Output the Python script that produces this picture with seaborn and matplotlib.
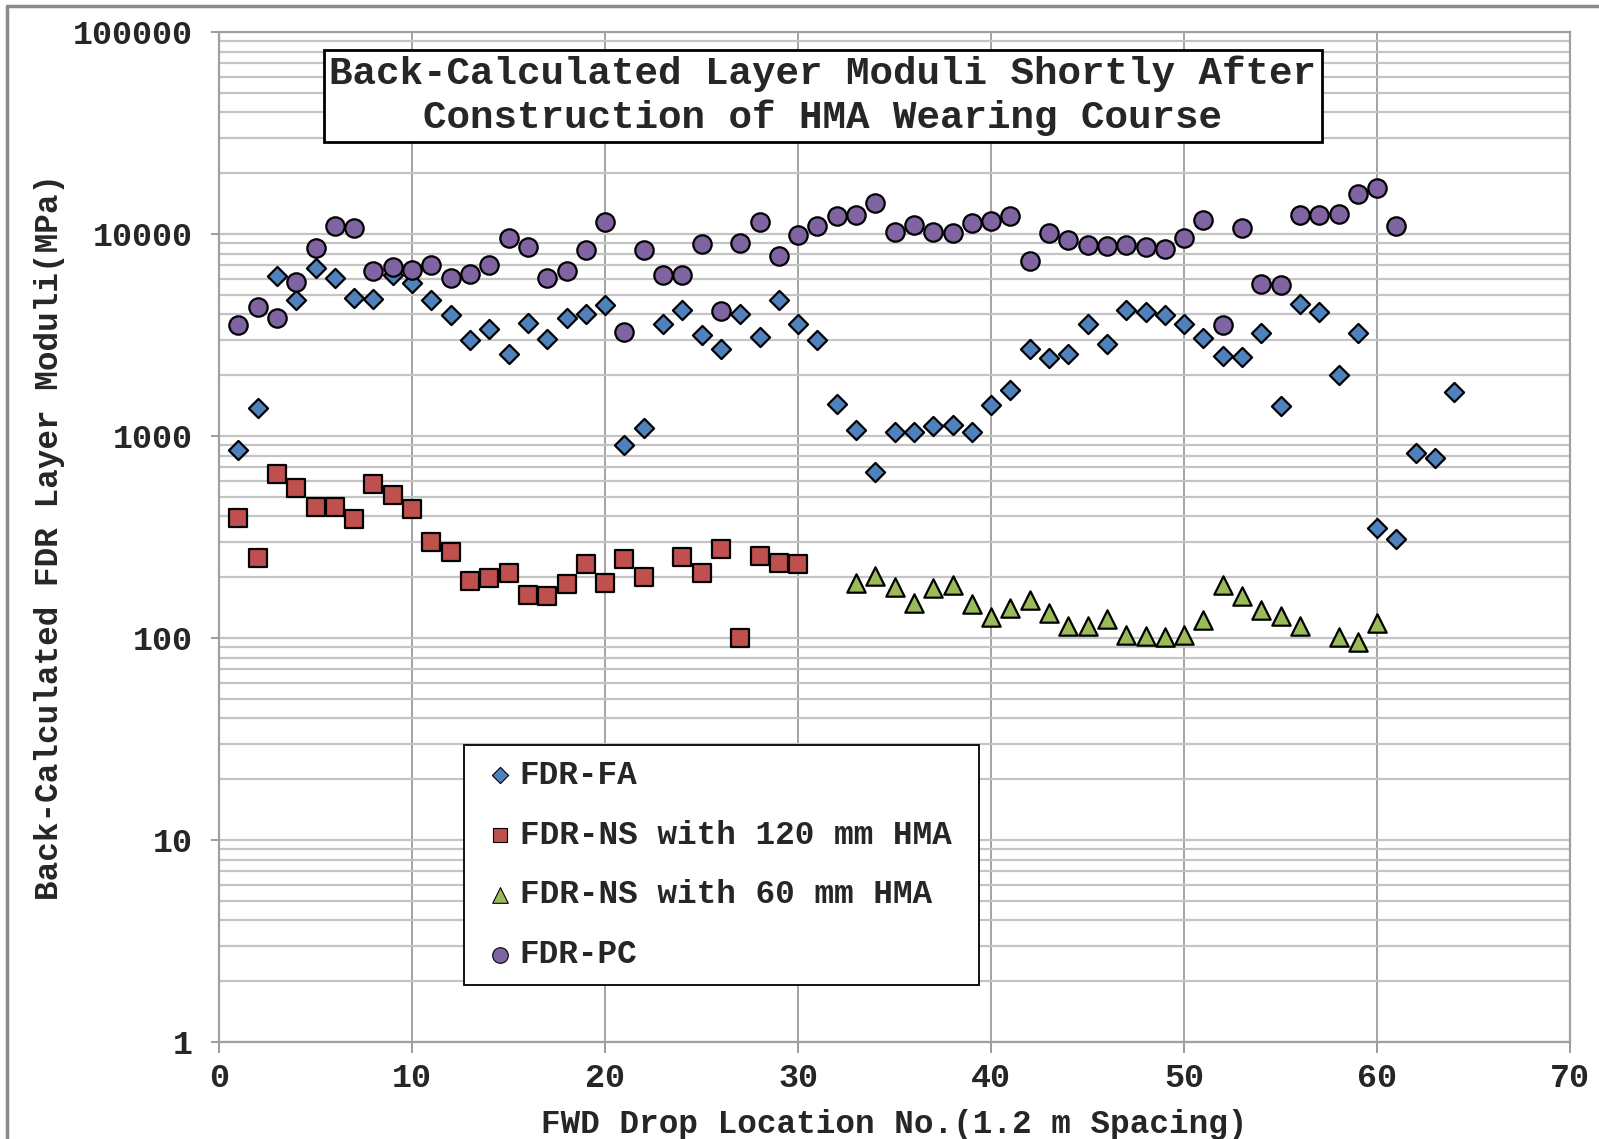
import numpy as np
import pandas as pd
import matplotlib
matplotlib.use('Agg')
import matplotlib.pyplot as plt
from matplotlib.lines import Line2D
from matplotlib.ticker import FixedLocator, FixedFormatter, LogLocator, NullFormatter
import seaborn as sns

# Data (MPa)
fa_x = list(range(1, 65))
fa_y = [849, 1380, 6170, 4690, 6760, 6090, 4800, 4750, 6250, 5720,
        4730, 3950, 2970, 3390, 2550, 3610, 3020, 3860, 4020, 4430,
        905, 1090, 3590, 4190, 3180, 2710, 4020, 3090, 4730, 3570,
        2970, 1440, 1070, 666, 1050, 1050, 1116, 1130, 1050, 1418,
        1695, 2700, 2420, 2550, 3570, 2840, 4210, 4090, 3950, 3570,
        3060, 2490, 2450, 3220, 1413, 4480, 4090, 2005, 3220, 351,
        309, 827, 778, 1660]

ns120_x = [1, 2, 3, 4, 5, 6, 7, 8, 9, 10, 11, 12, 13, 14, 15, 16, 17, 18, 19, 20,
           21, 22, 24, 25, 26, 27, 28, 29, 30]
ns120_y = [391, 248, 646, 555, 445, 445, 388, 576, 508, 435, 297, 265, 192, 197, 210,
           164, 161, 184, 232, 187, 246, 200, 253, 210, 276, 100, 256, 235, 232]

ns60_x = [33, 34, 35, 36, 37, 38, 39, 40, 41, 42, 43, 44, 45, 46, 47, 48, 49, 50,
          51, 52, 53, 54, 55, 56, 58, 59, 60]
ns60_y = [188, 202, 179, 149, 177, 182, 147, 127, 141, 155, 133, 115, 114, 124, 104,
          102, 101, 103, 123, 182, 161, 138, 128, 115, 101, 95.5, 119]

pc_x = list(range(1, 62))
pc_y = [3540, 4350, 3820, 5760, 8550, 10900, 10740, 6560, 6830, 6660,
        7050, 6050, 6310, 7050, 9590, 8650, 6050, 6560, 8360, 11500,
        3270, 8360, 6240, 6240, 8920, 4160, 9020, 11500, 7810, 9850,
        10900, 12220, 12460, 14230, 10270, 11040, 10270, 10110, 11330, 11640,
        12220, 7320, 10110, 9340, 8850, 8750, 8850, 8620, 8460, 9510,
        11770, 3540, 10660, 5650, 5620, 12420, 12420, 12590, 15700, 16810,
        10900]

series_names = ['FDR-FA', 'FDR-NS with 120 mm HMA', 'FDR-NS with 60 mm HMA', 'FDR-PC']
x_ticks = [0, 10, 20, 30, 40, 50, 60, 70]
y_ticks = [1, 10, 100, 1000, 10000, 100000]
y_tick_labels = ['1', '10', '100', '1000', '10000', '100000']

title_text = 'Back-Calculated Layer Moduli Shortly After\nConstruction of HMA Wearing Course'
x_label = 'FWD Drop Location No.(1.2 m Spacing)'
y_label = 'Back-Calculated FDR Layer Moduli(MPa)'

sns.set_style('white')
plt.rcParams['font.family'] = ['Liberation Mono', 'DejaVu Sans Mono']
plt.rcParams['font.weight'] = 'bold'

fig = plt.figure(figsize=(15.99, 11.39), dpi=100)
ax = fig.add_axes([0.137, 0.0852, 0.845, 0.8867])

styles = [
    (fa_x, fa_y, 'D', '#4F81BD', 95),
    (ns120_x, ns120_y, 's', '#C0504D', 150),
    (ns60_x, ns60_y, '^', '#9BBB59', 175),
    (pc_x, pc_y, 'o', '#8064A2', 175),
]
for (xs, ys, mk, col, sz), name in zip(styles, series_names):
    df = pd.DataFrame({'x': xs, 'y': ys})
    sns.scatterplot(data=df, x='x', y='y', marker=mk, color=col, s=sz,
                    edgecolor='black', linewidth=1.6, ax=ax, label=name, zorder=3)

ax.set_yscale('log')
ax.set_xlim(0, 70)
ax.set_ylim(1, 100000)
ax.xaxis.set_major_locator(FixedLocator(x_ticks))
ax.yaxis.set_major_locator(FixedLocator(y_ticks))
ax.yaxis.set_major_formatter(FixedFormatter(y_tick_labels))
ax.yaxis.set_minor_locator(LogLocator(base=10, subs=np.arange(2, 10)))
ax.yaxis.set_minor_formatter(NullFormatter())

ax.grid(which='major', axis='x', color='#8a8a8a', lw=1.1)
ax.grid(which='both', axis='y', color='#c4c4c4', lw=1.6)
ax.set_axisbelow(True)
for sp in ax.spines.values():
    sp.set_color('#a0a0a0')
    sp.set_linewidth(1.6)

ax.tick_params(axis='both', which='major', labelsize=24, direction='out', color='#8a8a8a')
ax.tick_params(axis='y', which='major', length=6, pad=13, width=1.2)
ax.tick_params(axis='x', which='major', length=8, pad=7, width=1.2)
ax.tick_params(axis='y', which='minor', length=0)
ax.tick_params(axis='both', left=True, bottom=True)

ax.set_xlabel(x_label, fontsize=23.5, fontweight='bold')
ax.set_ylabel(y_label, fontsize=23.5, fontweight='bold')
ax.xaxis.set_label_coords(0.5, -0.066)
ax.yaxis.set_label_coords(-0.114, 0.5)

ax.text(0.4467, 0.9366, title_text, transform=ax.transAxes, ha='center', va='center',
        fontsize=28.3, fontweight='bold', linespacing=1.27, zorder=5,
        bbox=dict(boxstyle='square,pad=0.14', facecolor='white', edgecolor='black', lw=2))

leg = ax.legend(loc='upper left', bbox_to_anchor=(0.1813, 0.0614, 0.3813, 0.2326),
                mode='expand', fontsize=23.6,
                frameon=True, fancybox=False, edgecolor='black', framealpha=1,
                markerscale=0.85, handlelength=1.3, handletextpad=-0.05,
                labelspacing=0.88, borderpad=0.45, borderaxespad=0)
leg.get_frame().set_linewidth(1.3)
for h in leg.legend_handles:
    h.set_linewidth(0.8)
leg.set_zorder(6)

# outer chart frame (left and top edges)
fig.add_artist(Line2D([7 / 1599, 7 / 1599], [0, 1 - 6 / 1139], transform=fig.transFigure,
                      color='#8a8a8a', lw=2.5))
fig.add_artist(Line2D([7 / 1599, 1], [1 - 6 / 1139, 1 - 6 / 1139], transform=fig.transFigure,
                      color='#8a8a8a', lw=2.5))

fig.savefig('out.png', dpi=100)
